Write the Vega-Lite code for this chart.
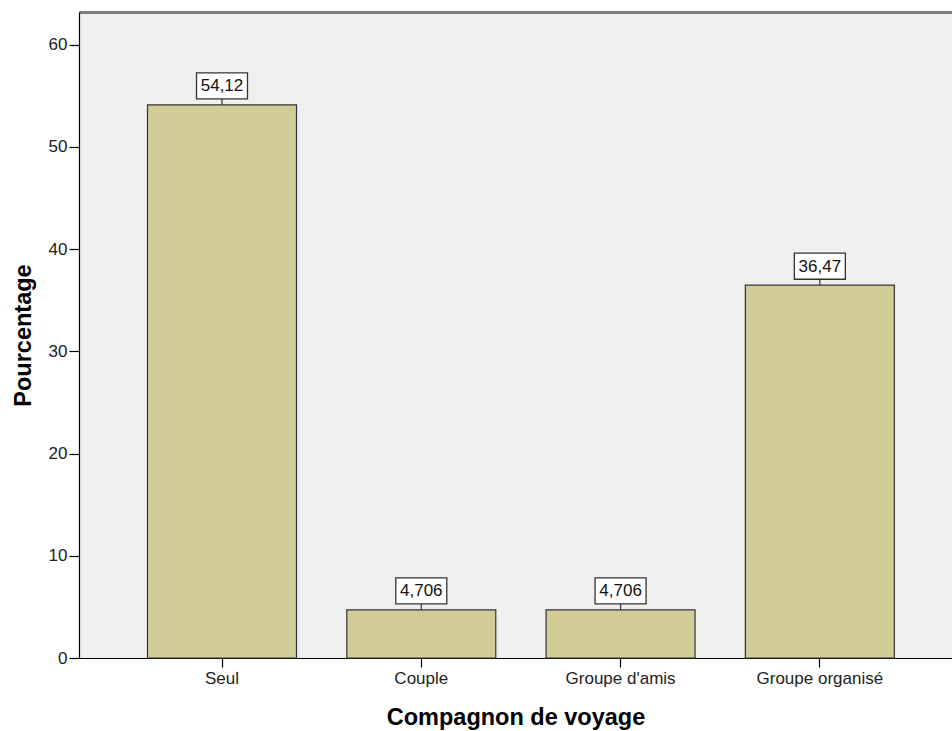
{
  "$schema": "https://vega.github.io/schema/vega-lite/v6.json",
  "width": 873,
  "height": 646,
  "autosize": {"type": "none"},
  "padding": {"left": 79, "top": 12, "right": 0, "bottom": 73},
  "background": "white",
  "config": {"view": {"stroke": null, "fill": "#EFEFEF"}, "font": "Liberation Sans"},
  "data": {
    "values": [
      {"companion": "Seul", "pct": 54.12, "label": "54,12"},
      {"companion": "Couple", "pct": 4.706, "label": "4,706"},
      {"companion": "Groupe d'amis", "pct": 4.706, "label": "4,706"},
      {"companion": "Groupe organisé", "pct": 36.47, "label": "36,47"}
    ]
  },
  "encoding": {
    "x": {"field": "companion", "type": "nominal", "sort": null, "axis": null,
      "scale": {"paddingInner": 0.2524, "paddingOuter": 0.3166, "align": 0.543}},
    "y": {"field": "pct", "type": "quantitative",
      "scale": {"domain": [0, 63.2], "nice": false},
      "axis": {"title": "Pourcentage", "titleFontSize": 23.5, "titleFontWeight": "bold", "titleColor": "#000",
        "titlePadding": 13, "values": [0, 10, 20, 30, 40, 50, 60], "tickSize": 10, "labelPadding": 2,
        "labelFontSize": 17, "labelColor": "#222", "grid": false, "domainColor": "#000", "tickColor": "#000",
        "domainWidth": 1.2, "tickWidth": 1.2}}
  },
  "layer": [
    {
      "mark": {"type": "bar", "fill": "#D2CD98", "stroke": "#333", "strokeWidth": 1.2},
      "encoding": {
        "x": {"field": "companion", "type": "nominal", "sort": null,
          "axis": {"orient": "bottom", "title": "Compagnon de voyage", "titleFontSize": 23.5, "titleFontWeight": "bold",
            "titleColor": "#000", "titlePadding": 19, "labelAngle": 0, "labelFontSize": 17, "labelColor": "#222",
            "labelPadding": 3, "tickSize": 9, "tickColor": "#000", "domainColor": "#000", "domainWidth": 1.2, "tickWidth": 1.2}}
      }
    },
    {
      "mark": {"type": "rule", "y2Offset": -6, "stroke": "#333", "strokeWidth": 1.2},
      "encoding": {"y2": {"field": "pct"}}
    },
    {
      "mark": {"type": "point", "shape": "M-1,-0.51L1,-0.51L1,0.51L-1,0.51Z", "size": 2601, "filled": true,
        "fill": "white", "stroke": "#333", "strokeWidth": 1.3, "opacity": 1, "yOffset": -19}
    },
    {
      "mark": {"type": "text", "yOffset": -18.5, "baseline": "middle", "align": "center", "fontSize": 17, "color": "#111"},
      "encoding": {
        "text": {"field": "label"},
        "x": {"field": "companion", "type": "nominal", "sort": null,
          "axis": {"orient": "top", "labels": false, "ticks": false, "title": null, "domainColor": "#808080", "domainWidth": 3}}
      }
    }
  ],
  "resolve": {"axis": {"x": "independent"}}
}
